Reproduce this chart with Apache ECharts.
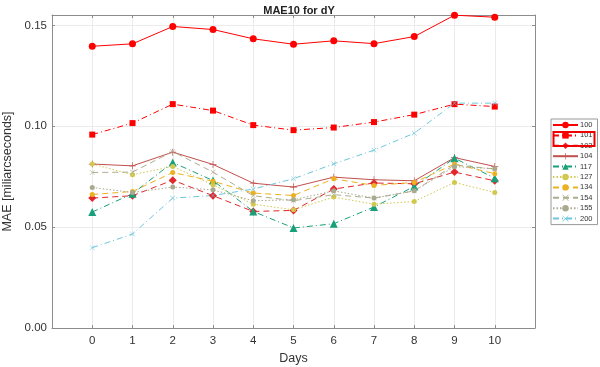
<!DOCTYPE html>
<html>
<head>
<meta charset="utf-8">
<script src="https://cdn.jsdelivr.net/npm/echarts@6/dist/echarts.min.js"></script>
<style>html,body{margin:0;padding:0;background:#fff}#c{width:600px;height:367px}</style>
</head>
<body>
<div id="c"></div>
<script>
const days = [0,1,2,3,4,5,6,7,8,9,10];
const names = ['100','101','102','104','117','127','134','154','155','200'];
const s100 = [0.1397,0.1409,0.1495,0.1480,0.1434,0.1407,0.1424,0.1410,0.1445,0.1551,0.1541];
const s101 = [0.0959,0.1016,0.1110,0.1078,0.1006,0.0981,0.0994,0.1021,0.1058,0.1110,0.1098];
const s102 = [0.0644,0.0656,0.0733,0.0656,0.0578,0.0583,0.0689,0.0719,0.0715,0.0773,0.0730];
const s104 = [0.0813,0.0804,0.0872,0.0811,0.0718,0.0699,0.0748,0.0735,0.0730,0.0845,0.0801];
const s117 = [0.0575,0.0666,0.0821,0.0731,0.0578,0.0496,0.0517,0.0600,0.0702,0.0842,0.0743];
const s127 = [0.0813,0.0760,0.0801,0.0710,0.0614,0.0586,0.0649,0.0614,0.0627,0.0722,0.0672];
const s134 = [0.0662,0.0677,0.0771,0.0728,0.0669,0.0657,0.0740,0.0707,0.0722,0.0813,0.0765];
const s154 = [0.0771,0.0773,0.0875,0.0773,0.0656,0.0631,0.0661,0.0644,0.0680,0.0809,0.0788];
const s155 = [0.0697,0.0672,0.0699,0.0685,0.0631,0.0636,0.0680,0.0644,0.0680,0.0800,0.0790];
const s200 = [0.0398,0.0466,0.0644,0.0657,0.0689,0.0740,0.0814,0.0882,0.0966,0.1115,0.1115];
const yTicks = ['0.00','0.05','0.10','0.15'];

const values = [s100,s101,s102,s104,s117,s127,s134,s154,s155,s200];
const xMark = 'path://M-10,-8.6L-8.6,-10L0,-1.4L8.6,-10L10,-8.6L1.4,0L10,8.6L8.6,10L0,1.4L-8.6,10L-10,8.6L-1.4,0Z';
const styles = [
  {color:'#ff0000', type:'solid', symbol:'circle', size:7},
  {color:'#ff0000', type:[6,3,1,3], symbol:'rect', size:6},
  {color:'#e3262b', type:[6,4], symbol:'diamond', size:8},
  {color:'#c0504d', type:'solid', symbol:'path://M-1,-10H1V-1H10V1H1V10H-1V1H-10V-1H-1Z', size:7},
  {color:'#17a07a', type:[6,3,1,3], symbol:'triangle', size:8},
  {color:'#d2c84e', type:[1.5,2], symbol:'circle', size:5},
  {color:'#edb120', type:[6,4], symbol:'circle', size:5},
  {color:'#adad90', type:[6,4], symbol:xMark, size:5},
  {color:'#a9a98f', type:[1.5,2], symbol:'circle', size:5},
  {color:'#6ec6dc', type:[6,3,1,3], symbol:xMark, size:5}
];

const series = names.map((n,i)=>({
  name:n, type:'line', xAxisIndex:0, yAxisIndex:0,
  data: days.map((d,k)=>[d, values[i][k]]),
  symbol: styles[i].symbol, symbolSize: styles[i].size, showSymbol:true,
  lineStyle:{color:styles[i].color, width:1, type:styles[i].type},
  itemStyle:{color:styles[i].color},
  emphasis:{disabled:true}, animation:false
}));

const font = 'Arial, "Liberation Sans", Helvetica, sans-serif';
const axisCol = '#8c8c8c';
const chart = echarts.init(document.getElementById('c'), null, {renderer:'canvas'});
chart.setOption({
  animation:false,
  backgroundColor:'#fff',
  title:{text:'MAE10 for dY', left:294, top:0, textAlign:'center',
    textStyle:{fontFamily:font, fontSize:11, fontWeight:'bold', color:'#222'}},
  grid:{left:52, top:15, width:483, height:313, show:false, containLabel:false, outerBoundsMode:'none'},
  legend:{orient:'vertical', left:551, top:119, itemWidth:25, itemHeight:8, itemGap:2.4,
    padding:[2,5,2,1], borderColor:'#999', borderWidth:1, backgroundColor:'#fff',
    textStyle:{fontFamily:font, fontSize:7.5, color:'#333', lineHeight:8, padding:[0,0,0,-3]},
    data:names, selectedMode:false},
  xAxis:[{type:'value', min:-1, max:11, interval:1, position:'bottom',
    name:'Days', nameLocation:'middle', nameGap:20,
    nameTextStyle:{fontFamily:font, fontSize:12.5, color:'#333'},
    axisLine:{show:true, onZero:false, lineStyle:{color:axisCol}},
    axisTick:{show:true, inside:true, length:3, lineStyle:{color:axisCol}},
    axisLabel:{fontFamily:font, fontSize:11.5, color:'#333', margin:7,
      formatter:v=> (v>=0 && v<=10) ? String(v) : ''},
    splitLine:{show:true, lineStyle:{color:'#ebebeb', width:1}}},
   {type:'value', min:-1, max:11, interval:1, position:'top',
    axisLine:{show:true, onZero:false, lineStyle:{color:axisCol}},
    axisTick:{show:true, inside:true, length:3, lineStyle:{color:axisCol}},
    axisLabel:{show:false}, splitLine:{show:false}}],
  yAxis:[{type:'value', min:0, max:0.1552, interval:0.05, position:'left',
    name:'MAE [miliarcseconds]', nameLocation:'middle', nameGap:27,
    nameTextStyle:{fontFamily:font, fontSize:12.5, color:'#333'},
    axisLine:{show:true, onZero:false, lineStyle:{color:axisCol}},
    axisTick:{show:true, inside:true, length:3, lineStyle:{color:axisCol}},
    axisLabel:{fontFamily:font, fontSize:11.5, color:'#333', margin:5, showMaxLabel:false,
      formatter:v=>{const k=Math.round(v/0.05); return Math.abs(v-k*0.05)<1e-6 ? yTicks[k] : '';}},
    splitLine:{show:true, lineStyle:{color:'#ebebeb', width:1}}},
   {type:'value', min:0, max:0.1552, interval:0.05, position:'right',
    axisLine:{show:true, onZero:false, lineStyle:{color:axisCol}},
    axisTick:{show:true, inside:true, length:3, lineStyle:{color:axisCol}},
    axisLabel:{show:false}, splitLine:{show:false}}],
  series: series,
  graphic:[{type:'rect', left:551, top:129.5, shape:{width:41, height:14},
    style:{fill:'none', stroke:'#ee0000', lineWidth:2}, z:100}]
});
</script>
</body>
</html>
